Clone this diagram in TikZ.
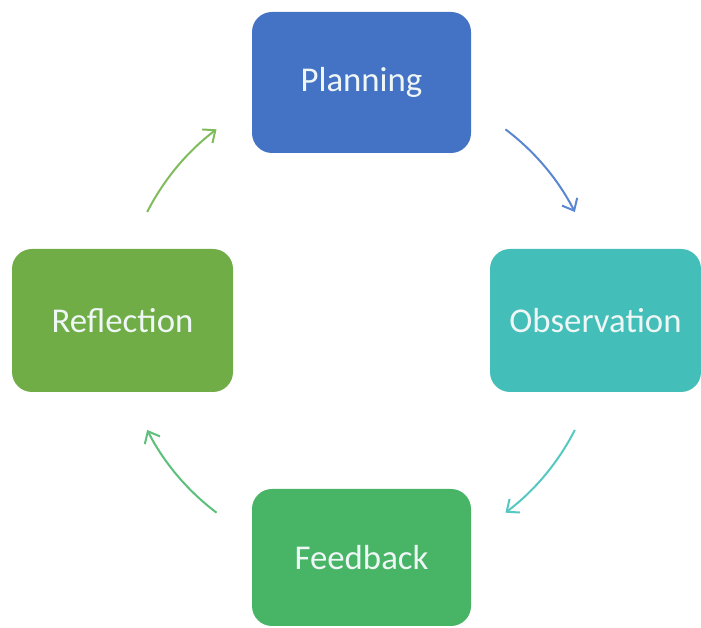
\documentclass[tikz,border=0pt]{standalone}
\usepackage{fontspec}
\setmainfont{Carlito}
\usetikzlibrary{arrows.meta}
\definecolor{cplan}{HTML}{4472C4}
\definecolor{cobs}{HTML}{43BEB8}
\definecolor{cref}{HTML}{70AD47}
\definecolor{cfeed}{HTML}{47B466}
\definecolor{aplan}{HTML}{5A86D2}
\definecolor{aobs}{HTML}{55C8C2}
\definecolor{afeed}{HTML}{5CC07A}
\definecolor{aref}{HTML}{80BC5C}
\definecolor{txt}{HTML}{EEF6F6}
\begin{document}
\begin{tikzpicture}[x=1pt,y=1pt,
  box/.style={rounded corners=20pt, minimum width=219pt, minimum height=141pt,
    inner sep=0pt, text=txt, font=\fontsize{34.8}{40}\selectfont},
  cyc/.style={line width=2pt, -{Straight Barb[length=10pt,width=17pt,line width=2pt]}}]
\useasboundingbox (0,0) rectangle (701,628);
\node[box, fill=cplan] (plan) at (361.5,545.5) {Planning};
\node[box, fill=cobs, minimum width=211pt, minimum height=143pt] (obs) at (595.5,307.5) {Observation};
\node[box, fill=cref, minimum width=221pt, minimum height=143pt] (ref) at (122.5,307.5) {Reflection};
\node[box, fill=cfeed, minimum height=137pt] (feed) at (361.5,70.5) {Feedback};
\coordinate (c) at (361,307);
\draw[cyc, aplan] ([shift={(53:240)}]c) arc[start angle=53, end angle=27, radius=240];
\draw[cyc, aobs] ([shift={(-27:240)}]c) arc[start angle=-27, end angle=-53, radius=240];
\draw[cyc, afeed] ([shift={(233:240)}]c) arc[start angle=233, end angle=207, radius=240];
\draw[cyc, aref] ([shift={(153:240)}]c) arc[start angle=153, end angle=127, radius=240];
\end{tikzpicture}
\end{document}
